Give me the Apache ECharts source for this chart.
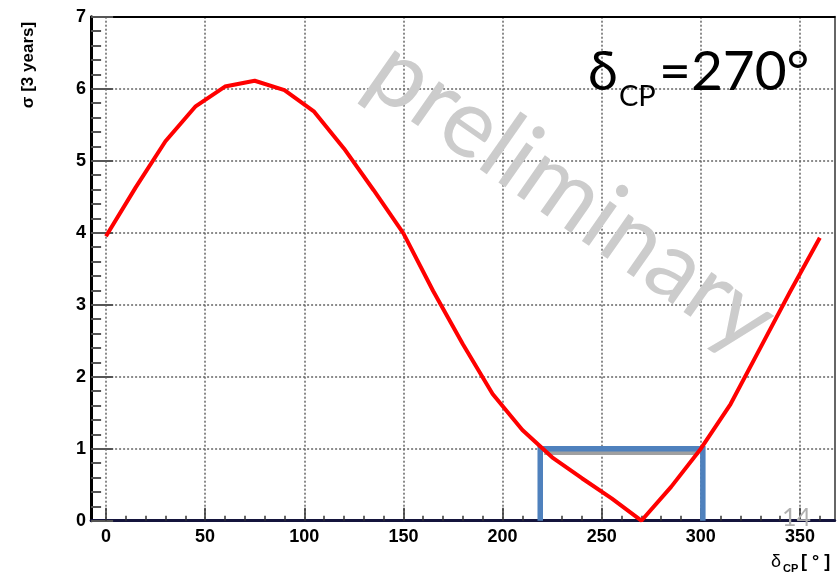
<!DOCTYPE html>
<html>
<head>
<meta charset="utf-8">
<script src="https://cdn.jsdelivr.net/npm/echarts@6/dist/echarts.min.js"></script>
<style>
  html, body { margin: 0; padding: 0; background: #ffffff; }
  #chart { width: 840px; height: 576px; }
</style>
</head>
<body>
<div id="chart"></div>
<script>
// Sensitivity to CP violation vs. true delta_CP (3 years of running)
const deltaCP = [0, 15, 30, 45, 60, 75, 90, 105, 120, 135, 150, 165, 180,
                 195, 210, 225, 240, 255, 270, 285, 300, 315, 330, 345, 360];
const sigma   = [3.95, 4.63, 5.27, 5.75, 6.03, 6.11, 5.98, 5.68, 5.17, 4.59, 3.99, 3.19, 2.45,
                 1.76, 1.26, 0.88, 0.59, 0.31, 0.00, 0.47, 1.00, 1.62, 2.40, 3.18, 3.93];

// 1-sigma exclusion window around the true value
const windowEdges = [219, 301];
const windowLevel = 1;
const windowShadow = [221, 299, 0.94];

// Axis ranges (bin edges of the 15-degree binning)
const xRange = [-7.5, 367.5];
const xLabelRange = [0, 350];
const xMinorRange = [0, 360];
const yRange = [0, 7];

// Frame geometry
const frameLeft = 91.1, frameRight = 834.7, frameTop = 16.7, frameBottom = 520.7;
const pxPerDeg = (frameRight - frameLeft) / (xRange[1] - xRange[0]);
const frameH = frameBottom - frameTop;
const innerLeft = frameLeft + (xLabelRange[0] - xRange[0]) * pxPerDeg;
const minorLeft = frameLeft + (xMinorRange[0] - xRange[0]) * pxPerDeg;

const tickFont = { fontFamily: 'Liberation Sans', fontWeight: 'bold', fontSize: 18, color: '#000' };
const gridDots = { type: [2, 2], color: '#666', width: 1.5 };

const curve = deltaCP.map((d, i) => [d, sigma[i]]);
const box = [[windowEdges[0], 0], [windowEdges[0], windowLevel],
             [windowEdges[1], windowLevel], [windowEdges[1], 0]];
const shadow = [[windowShadow[0], windowShadow[2]], [windowShadow[1], windowShadow[2]]];

const chart = echarts.init(document.getElementById('chart'), null, { renderer: 'canvas' });

chart.setOption({
  animation: false,
  backgroundColor: '#ffffff',
  grid: [
    { left: frameLeft, top: frameTop, width: frameRight - frameLeft, height: frameH },
    { left: minorLeft, top: frameTop, width: (xMinorRange[1] - xMinorRange[0]) * pxPerDeg, height: frameH },
    { left: innerLeft, top: frameTop, width: (xLabelRange[1] - xLabelRange[0]) * pxPerDeg, height: frameH }
  ],
  xAxis: [
    { gridIndex: 0, type: 'value', min: xRange[0], max: xRange[1], position: 'bottom',
      axisLine: { show: true, onZero: false, lineStyle: { color: '#14143c', width: 3 } },
      axisTick: { show: false }, axisLabel: { show: false }, splitLine: { show: false } },
    { gridIndex: 0, type: 'value', min: xRange[0], max: xRange[1], position: 'top',
      axisLine: { show: true, onZero: false, lineStyle: { color: '#000', width: 2 } },
      axisTick: { show: false }, axisLabel: { show: false }, splitLine: { show: false } },
    { gridIndex: 1, type: 'value', min: xMinorRange[0], max: xMinorRange[1], interval: 10, position: 'bottom',
      axisLine: { show: false, onZero: false },
      axisTick: { show: true, inside: true, length: 5, lineStyle: { color: '#333', width: 1.5 } },
      axisLabel: { show: false }, splitLine: { show: false } },
    { gridIndex: 2, type: 'value', min: xLabelRange[0], max: xLabelRange[1], interval: 50, position: 'bottom',
      axisLine: { show: false, onZero: false },
      axisTick: { show: true, inside: true, length: 13, lineStyle: { color: '#333', width: 1.5 } },
      axisLabel: Object.assign({ margin: 7 }, tickFont),
      splitLine: { show: true, lineStyle: gridDots } }
  ],
  yAxis: [
    { gridIndex: 0, type: 'value', min: yRange[0], max: yRange[1], interval: 1, position: 'left',
      axisLine: { show: true, onZero: false, lineStyle: { color: '#000', width: 3 } },
      axisTick: { show: true, inside: true, length: 22, lineStyle: { color: '#555', width: 2 } },
      minorTick: { show: true, splitNumber: 5, length: 10, lineStyle: { color: '#555', width: 2 } },
      axisLabel: Object.assign({ margin: 5 }, tickFont),
      splitLine: { show: true, lineStyle: gridDots } },
    { gridIndex: 0, type: 'value', min: yRange[0], max: yRange[1], position: 'right',
      axisLine: { show: true, onZero: false, lineStyle: { color: '#666', width: 2 } },
      axisTick: { show: false }, axisLabel: { show: false }, splitLine: { show: false } },
    { gridIndex: 1, type: 'value', min: yRange[0], max: yRange[1], show: false },
    { gridIndex: 2, type: 'value', min: yRange[0], max: yRange[1], show: false }
  ],
  series: [
    { type: 'line', xAxisIndex: 0, yAxisIndex: 0, data: shadow, showSymbol: false, silent: true,
      lineStyle: { color: '#a0a0a0', width: 4 }, z: 3 },
    { type: 'line', xAxisIndex: 0, yAxisIndex: 0, data: box, showSymbol: false, silent: true,
      lineStyle: { color: '#4f81bd', width: 5.5, join: 'miter', cap: 'butt' }, z: 4 },
    { type: 'line', xAxisIndex: 0, yAxisIndex: 0, data: curve, showSymbol: false, silent: true,
      lineStyle: { color: '#ff0000', width: 4 }, z: 5 }
  ],
  graphic: [
    // axis titles
    { type: 'text', x: 28.5, y: 65, rotation: Math.PI / 2, z: 50,
      style: { text: 'σ [3 years]', fontFamily: 'Liberation Sans', fontWeight: 'bold', fontSize: 17,
               fill: '#000', align: 'center', verticalAlign: 'middle' } },
    { type: 'text', x: 771, y: 561.8, z: 50,
      style: { text: 'δ', fontFamily: 'Liberation Sans', fontSize: 18, fill: '#000',
               align: 'left', verticalAlign: 'middle' } },
    { type: 'text', x: 783, y: 569.2, z: 50,
      style: { text: 'CP', fontFamily: 'Liberation Sans', fontWeight: 'bold', fontSize: 11, fill: '#000',
               align: 'left', verticalAlign: 'middle' } },
    { type: 'text', x: 801, y: 561.8, z: 50,
      style: { text: '[ ° ]', fontFamily: 'Liberation Sans', fontWeight: 'bold', fontSize: 18, fill: '#000',
               align: 'left', verticalAlign: 'middle' } },
    // true value annotation
    { type: 'text', x: 588, y: 72.5, z: 60,
      style: { text: 'δ', fontFamily: 'Lato', fontSize: 54, fill: '#000', align: 'left', verticalAlign: 'middle' } },
    { type: 'text', x: 619, y: 96.8, z: 60,
      style: { text: 'CP', fontFamily: 'Lato', fontSize: 29, fill: '#000', align: 'left', verticalAlign: 'middle' } },
    { type: 'text', x: 659, y: 72.5, z: 60,
      style: { text: '=270°', fontFamily: 'Lato', fontSize: 55, fill: '#000', align: 'left', verticalAlign: 'middle' } },
    // watermark
    { type: 'text', x: 572, y: 196, rotation: -35 * Math.PI / 180, z: 70,
      style: { text: 'preliminary', fontFamily: 'Lato', fontSize: 96, fill: '#cccccc',
               align: 'center', verticalAlign: 'middle' } },
    // page number
    { type: 'text', x: 782, y: 518.3, z: 70,
      style: { text: '14', fontFamily: 'Lato', fontSize: 25, fill: '#b0b0b0', align: 'left', verticalAlign: 'middle' } }
  ]
});
</script>
</body>
</html>
